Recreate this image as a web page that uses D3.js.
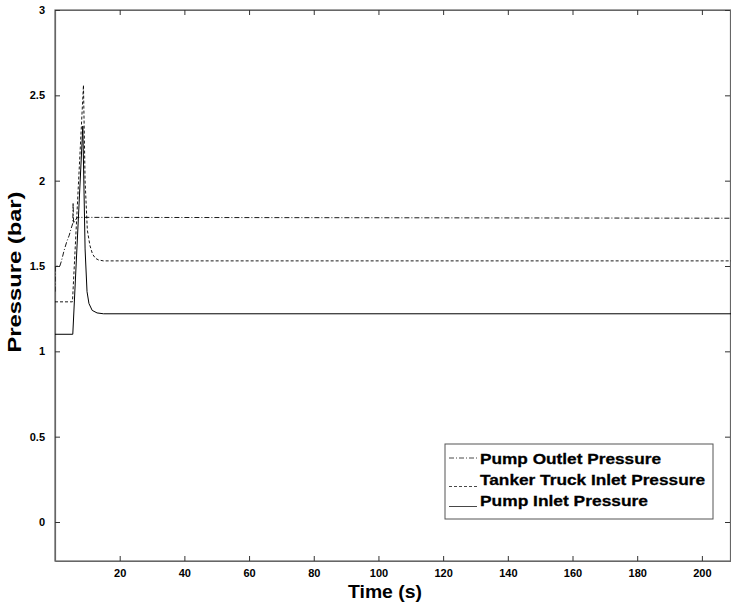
<!DOCTYPE html>
<html>
<head>
<meta charset="utf-8">
<script src="https://cdn.jsdelivr.net/npm/d3@7/dist/d3.min.js"></script>
<style>
  html, body { margin: 0; padding: 0; background: #fff; }
  svg { display: block; font-family: "Liberation Sans", Arial, Helvetica, sans-serif; }
</style>
</head>
<body>
<svg id="chart" width="731" height="605"></svg>
<script>
// ---- data ----
const xTicks = [20, 40, 60, 80, 100, 120, 140, 160, 180, 200];
const yTicks = [0, 0.5, 1, 1.5, 2, 2.5, 3];
const yTickLabels = ["0", "0.5", "1", "1.5", "2", "2.5", "3"];
const seriesNames = ["Pump Outlet Pressure", "Tanker Truck Inlet Pressure", "Pump Inlet Pressure"];

const outletTime  = [0, 0.05, 1.5, 2.0, 2.8, 3.6, 4.4, 5.0, 5.5, 5.6, 5.75, 6.3, 6.9, 209];
const outletPress = [1.35, 1.5, 1.5, 1.53, 1.59, 1.64, 1.68, 1.72, 1.75, 1.87, 1.75, 1.77, 1.785, 1.78];

const tankerTime  = [0, 5.4, 8.8, 9.3, 10.0, 10.8, 11.6, 12.5, 13.5, 15, 209];
const tankerPress = [1.29, 1.29, 2.56, 2.0, 1.71, 1.62, 1.57, 1.545, 1.535, 1.53, 1.53];

const inletTime  = [0, 5.5, 8.6, 9.3, 9.9, 10.5, 11.5, 13, 15, 209];
const inletPress = [1.1, 1.1, 2.32, 1.6, 1.35, 1.28, 1.24, 1.225, 1.22, 1.22];

// ---- layout ----
const svg = d3.select("#chart");
const L = 55, R = 731, T = 10, B = 561;
const x = d3.scaleLinear().domain([0, 209]).range([L, R]);
const y = d3.scaleLinear().domain([-0.2285, 3]).range([B, T]);

const axisColor = "#666";

// frame
svg.append("rect").attr("x", L).attr("y", T).attr("width", R - L).attr("height", B - T)
  .attr("fill", "none").attr("stroke", axisColor).attr("stroke-width", 1.2);

// axes (inward ticks)
const fmtY = d => yTickLabels[yTicks.indexOf(d)];
const gB = svg.append("g").attr("transform", `translate(0,${B})`)
  .call(d3.axisBottom(x).tickValues(xTicks).tickSizeInner(-5).tickSizeOuter(0).tickPadding(8));
const gT = svg.append("g").attr("transform", `translate(0,${T})`)
  .call(d3.axisTop(x).tickValues(xTicks).tickSizeInner(-5).tickSizeOuter(0).tickFormat(""));
const gL = svg.append("g").attr("transform", `translate(${L},0)`)
  .call(d3.axisLeft(y).tickValues(yTicks).tickFormat(fmtY).tickSizeInner(-5).tickSizeOuter(0).tickPadding(10));
const gR = svg.append("g").attr("transform", `translate(${R - 1},0)`)
  .call(d3.axisRight(y).tickValues(yTicks).tickSizeInner(-5).tickSizeOuter(0).tickFormat(""));

[gB, gT, gL, gR].forEach(g => {
  g.select(".domain").attr("stroke", axisColor).attr("stroke-width", 1.2);
  g.selectAll(".tick line").attr("stroke", "#333").attr("stroke-width", 1);
  g.selectAll(".tick text").attr("fill", "#000").attr("font-size", 11).attr("font-weight", "bold")
    .attr("font-family", "Liberation Sans, Arial, sans-serif");
});

// axis titles
svg.append("text").attr("x", 385).attr("y", 598).attr("text-anchor", "middle")
  .attr("font-size", 18.5).attr("font-weight", "bold")
  .attr("textLength", 74).attr("lengthAdjust", "spacingAndGlyphs").text("Time (s)");
svg.append("text").attr("transform", `translate(21,272) rotate(-90)`)
  .attr("text-anchor", "middle").attr("font-size", 19).attr("font-weight", "bold")
  .attr("textLength", 161).attr("lengthAdjust", "spacingAndGlyphs").text("Pressure (bar)");

// lines
svg.append("clipPath").attr("id", "clip").append("rect")
  .attr("x", L).attr("y", T).attr("width", R - L).attr("height", B - T);
const line = d3.line().x(d => x(d[0])).y(d => y(d[1]));
const styles = ["5,2,1,2", "3,2", null];
const data = [
  d3.zip(outletTime, outletPress),
  d3.zip(tankerTime, tankerPress),
  d3.zip(inletTime, inletPress)
];
const gLines = svg.append("g").attr("clip-path", "url(#clip)");
data.forEach((d, i) => {
  gLines.append("path").datum(d).attr("d", line).attr("fill", "none")
    .attr("stroke", "#000").attr("stroke-width", i === 2 ? 1 : 0.9)
    .attr("stroke-dasharray", styles[i]);
});

// legend
const lg = svg.append("g");
lg.append("rect").attr("x", 445).attr("y", 444).attr("width", 268).attr("height", 75)
  .attr("fill", "#fff").attr("stroke", "#555").attr("stroke-width", 1);
const textY = [464, 485, 506];
const sampleY = [458, 486.5, 506.5];
const textLen = [181, 225, 168];
seriesNames.forEach((n, i) => {
  lg.append("line").attr("x1", 449).attr("x2", 477).attr("y1", sampleY[i]).attr("y2", sampleY[i])
    .attr("stroke", "#333").attr("stroke-width", 0.9).attr("stroke-dasharray", styles[i]);
  lg.append("text").attr("x", 480).attr("y", textY[i]).attr("font-size", 15.5).attr("font-weight", "bold")
    .attr("stroke", "#000").attr("stroke-width", 0.3)
    .attr("textLength", textLen[i]).attr("lengthAdjust", "spacingAndGlyphs").text(n);
});
</script>
</body>
</html>
